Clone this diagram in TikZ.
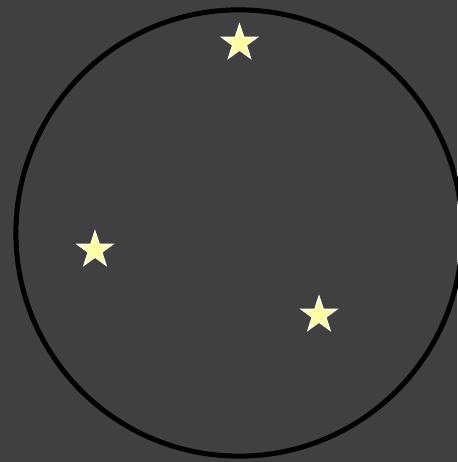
\documentclass[tikz,border=0pt]{standalone}
\usepackage{tikz}
\definecolor{night}{RGB}{64, 64, 64}
\definecolor{starlight}{RGB}{255, 255, 160}
\usetikzlibrary{shapes.geometric, positioning}

\begin{document}
\begin{tikzpicture}[
    x=0.01cm, y=-0.01cm,
    sky/.style={draw=black, line width=0.5mm, circle, inner sep=0pt,
                minimum size=4.46cm},
    twinkle/.style={star, star points=5, star point ratio=2.6,
                    draw=white, line width=0.3pt, fill=starlight,
                    inner sep=0pt, minimum size=0.38cm}
]
    % Background
    \fill[night] (0,0) rectangle (457,462);
    \useasboundingbox (0,0) rectangle (457,462);

    % Circle
    \node[sky] (dome) at (239,233) {};

    % Stars
    \node[twinkle] (north) at (239.5,43) {};
    \node[twinkle] (west) at (95,250) {};
    \node[twinkle] (east) at (319,315) {};
\end{tikzpicture}
\end{document}
